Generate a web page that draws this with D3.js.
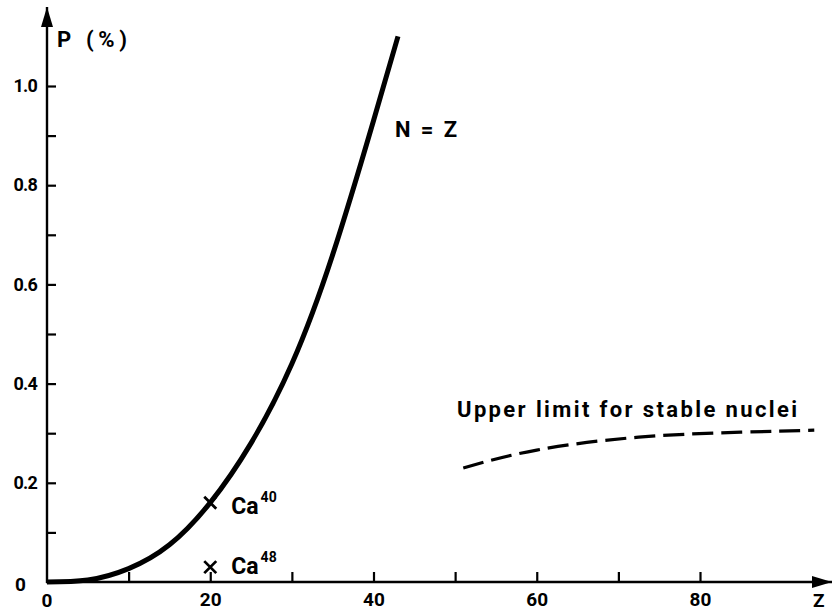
<!DOCTYPE html>
<html>
<head>
<meta charset="utf-8">
<script src="https://cdn.jsdelivr.net/npm/d3@7"></script>
<style>
  body { margin: 0; background: #fff; }
  text { font-family: Roboto, "DejaVu Sans", sans-serif; font-weight: 700; fill: #000; }
</style>
</head>
<body>
<div id="chart"></div>
<script>
const curveZ = [0, 5, 10, 15, 20, 25, 30, 35, 40, 43];
const curveP = [0, 0.004, 0.027, 0.075, 0.16, 0.28, 0.44, 0.66, 0.93, 1.10];

// upper limit for stable nuclei (dashed)
const limitZ = [51, 60, 72.5, 85, 94];
const limitP = [0.23, 0.266, 0.292, 0.302, 0.306];

// calcium isotopes
const isoNames = ["Ca", "Ca"];
const isoMass = ["40", "48"];
const isoZ = [20, 20];
const isoP = [0.16, 0.03];

const xTicks = [10, 20, 30, 40, 50, 60, 70, 80];
const xLabels = [0, 20, 40, 60, 80];
const yTicks = [0.1, 0.2, 0.3, 0.4, 0.5, 0.6, 0.7, 0.8, 0.9, 1.0];
const yLabels = [0, 0.2, 0.4, 0.6, 0.8, 1.0];

const WIDTH = 832, HEIGHT = 614;

const svg = d3.select("#chart")
  .append("svg")
    .attr("width", WIDTH)
    .attr("height", HEIGHT);

const x = d3.scaleLinear().domain([0, 80]).range([47, 700]);
const y = d3.scaleLinear().domain([0, 1]).range([582, 86]);

// arrow heads for the axes
svg.append("defs").append("marker")
    .attr("id", "arrow")
    .attr("viewBox", "0 0 20 12")
    .attr("refX", 20).attr("refY", 6)
    .attr("markerWidth", 20).attr("markerHeight", 12)
    .attr("markerUnits", "userSpaceOnUse")
    .attr("orient", "auto")
  .append("path")
    .attr("d", "M0,0 L20,6 L0,12 Z")
    .attr("fill", "#000");

// axis lines
svg.append("line")
    .attr("x1", x(0)).attr("y1", y(0) + 1)
    .attr("x2", x(0)).attr("y2", 7)
    .attr("stroke", "#000").attr("stroke-width", 2.4)
    .attr("marker-end", "url(#arrow)");
svg.append("line")
    .attr("x1", x(0) - 1).attr("y1", y(0))
    .attr("x2", 832).attr("y2", y(0))
    .attr("stroke", "#000").attr("stroke-width", 2.4)
    .attr("marker-end", "url(#arrow)");

// ticks point inward, labels only on every other tick
const yAxis = d3.axisLeft(y)
    .tickValues(yTicks)
    .tickSizeInner(-9)
    .tickSizeOuter(0)
    .tickPadding(10)
    .tickFormat(d => yLabels.some(v => Math.abs(v - d) < 1e-9) ? d.toFixed(1) : "");
const gy = svg.append("g")
    .attr("transform", `translate(${x(0)},0)`)
    .call(yAxis);
gy.select(".domain").remove();
gy.selectAll(".tick line").attr("stroke-width", 2.2);
gy.selectAll("text")
    .style("font-size", "18px")
    .style("font-family", "Roboto, sans-serif")
    .style("font-weight", 700)
    .attr("letter-spacing", "-0.8px");

// "0" on the y axis sits a little lower and further out
svg.append("text")
    .attr("x", x(0) - 21)
    .attr("y", y(0) + 9)
    .attr("text-anchor", "end")
    .style("font-size", "19px")
    .text("0");

const xAxis = d3.axisBottom(x)
    .tickValues(xTicks)
    .tickSizeInner(-10)
    .tickSizeOuter(0)
    .tickPadding(11)
    .tickFormat(d => xLabels.includes(d) ? d : "");
const gx = svg.append("g")
    .attr("transform", `translate(0,${y(0)})`)
    .call(xAxis);
gx.select(".domain").remove();
gx.selectAll(".tick line").attr("stroke-width", 2.2);
gx.selectAll("text")
    .style("font-size", "19px")
    .style("font-family", "Roboto, sans-serif")
    .style("font-weight", 700);

svg.append("text")
    .attr("x", x(0))
    .attr("y", y(0) + 25)
    .attr("text-anchor", "middle")
    .style("font-size", "19px")
    .text("0");

// N = Z curve
const line = d3.line()
    .x(d => x(d[0]))
    .y(d => y(d[1]));

svg.append("path")
    .datum(curveZ.map((z, i) => [z, curveP[i]]))
    .attr("d", line.curve(d3.curveNatural))
    .attr("fill", "none")
    .attr("stroke", "#000")
    .attr("stroke-width", 5)
    .attr("stroke-linecap", "butt");

// stability limit, dashed
svg.append("path")
    .datum(limitZ.map((z, i) => [z, limitP[i]]))
    .attr("d", line.curve(d3.curveNatural))
    .attr("fill", "none")
    .attr("stroke", "#000")
    .attr("stroke-width", 3.2)
    .attr("stroke-dasharray", "21,8");

// isotope crosses and labels
const iso = svg.selectAll(".iso")
    .data(isoZ.map((z, i) => ({ z: z, p: isoP[i], name: isoNames[i], mass: isoMass[i], dy: i === 0 ? 11 : 7 })))
    .enter()
    .append("g")
      .attr("class", "iso")
      .attr("transform", d => `translate(${x(d.z)},${y(d.p)})`);

iso.append("path")
    .attr("d", "M-6,-6 L6,6 M-6,6 L6,-6")
    .attr("stroke", "#000")
    .attr("stroke-width", 2.8);

const isoText = iso.append("text")
    .attr("x", 21)
    .attr("y", d => d.dy)
    .style("font-size", "23px");
isoText.append("tspan").text(d => d.name);
isoText.append("tspan")
    .attr("dy", -12)
    .attr("dx", 2)
    .style("font-size", "14px")
    .text(d => d.mass);

// annotations
svg.append("text")
    .attr("x", 57).attr("y", 47)
    .attr("textLength", 70).attr("lengthAdjust", "spacing")
    .style("font-size", "22px")
    .text("P (%)");

svg.append("text")
    .attr("x", 395).attr("y", 137)
    .attr("textLength", 62).attr("lengthAdjust", "spacing")
    .style("font-size", "22px")
    .text("N = Z");

svg.append("text")
    .attr("x", 457).attr("y", 417)
    .attr("textLength", 340).attr("lengthAdjust", "spacing")
    .style("font-size", "22px")
    .text("Upper limit for stable nuclei");

svg.append("text")
    .attr("x", 813).attr("y", 607)
    .style("font-size", "19px")
    .text("Z");
</script>
</body>
</html>
